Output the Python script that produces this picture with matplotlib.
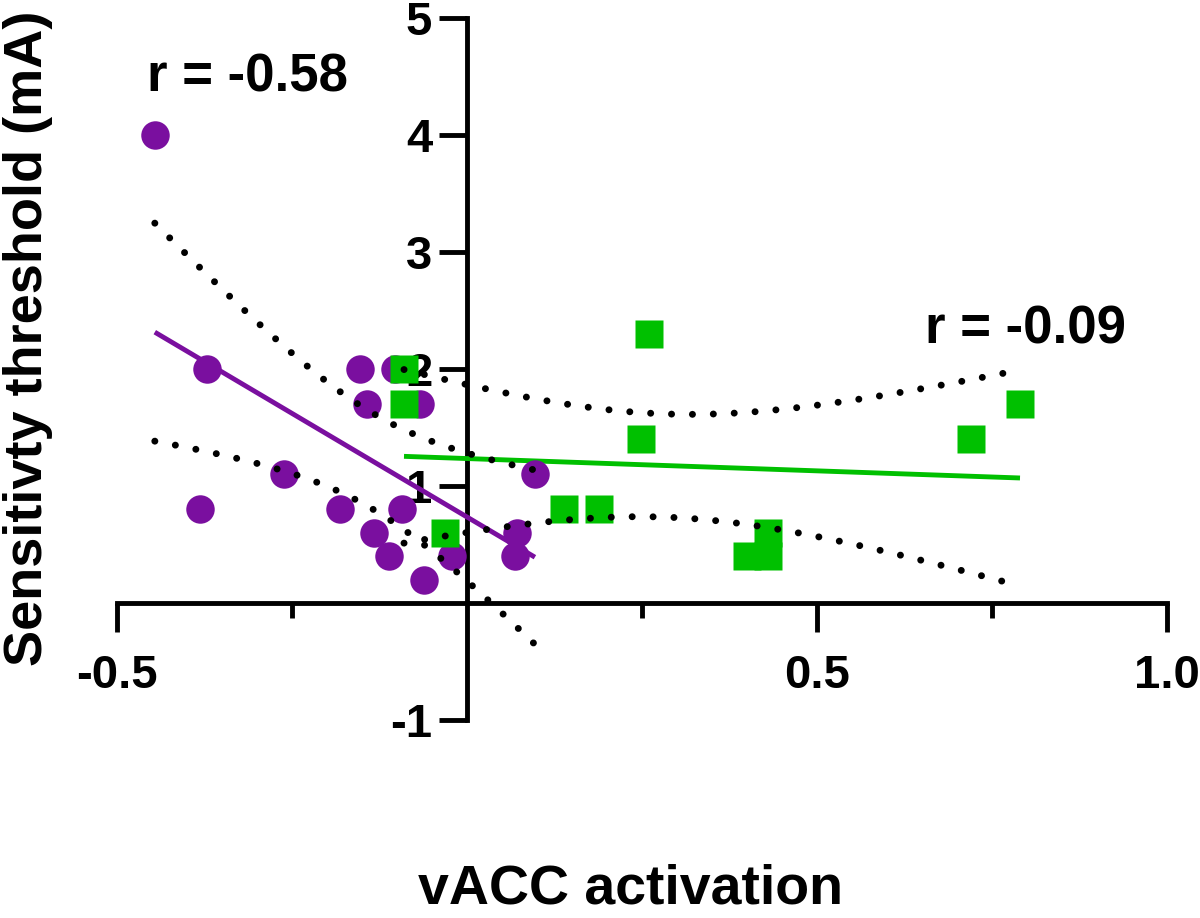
import matplotlib.pyplot as plt
import numpy as np

plt.rcParams["font.family"] = ["Liberation Sans", "DejaVu Sans"]
plt.rcParams["font.weight"] = "bold"

# purple group (circles)
purple_x = np.array([-0.446, -0.371, -0.381, -0.261, -0.181, -0.153, -0.143,
                     -0.133, -0.111, -0.093, -0.103, -0.067, -0.061, -0.021,
                     0.097, 0.071, 0.069])
purple_y = np.array([4.0, 2.0, 0.8, 1.1, 0.8, 2.0, 1.7, 0.6, 0.4, 0.8, 2.0,
                     1.7, 0.2, 0.4, 1.1, 0.6, 0.4])

# green group (squares)
green_x = np.array([-0.09, -0.09, -0.031, 0.26, 0.249, 0.139, 0.189, 0.79,
                    0.72, 0.43, 0.40, 0.43])
green_y = np.array([2.0, 1.7, 0.6, 2.3, 1.4, 0.8, 0.8, 1.7, 1.4, 0.6, 0.4, 0.4])

purple_r = "r = -0.58"
green_r = "r = -0.09"

# two-sided 95% t critical values by degrees of freedom
t_crit = {10: 2.228, 15: 2.131}

PURPLE = "#7a0f9f"
GREEN = "#00c000"


def fit_with_band(x, y):
    """linear fit and 95% confidence band of the mean over the data range"""
    slope, icpt = np.polyfit(x, y, 1)
    n = len(x)
    xs = np.linspace(x.min(), x.max(), 200)
    fit = slope * xs + icpt
    resid = y - (slope * x + icpt)
    s = np.sqrt(np.sum(resid ** 2) / (n - 2))
    sxx = np.sum((x - x.mean()) ** 2)
    half = t_crit[n - 2] * s * np.sqrt(1.0 / n + (xs - x.mean()) ** 2 / sxx)
    return xs, fit, fit - half, fit + half


def main() -> None:
    fig = plt.figure(figsize=(12, 9.18), dpi=100)
    ax = fig.add_axes([0.0975, 0.2157, 0.875, 0.7647])

    dots = dict(color="black", lw=5, linestyle=(0, (0.01, 3)),
                dash_capstyle="round", zorder=4)

    for x, y, col in [(purple_x, purple_y, PURPLE), (green_x, green_y, GREEN)]:
        xs, fit, lo, hi = fit_with_band(x, y)
        ax.plot(xs, fit, color=col, lw=3.5, zorder=3, solid_capstyle="butt")
        ax.plot(xs, lo, **dots)
        ax.plot(xs, hi, **dots)

    ax.plot(purple_x, purple_y, "o", color=PURPLE, ms=20.5, mec="none",
            zorder=3.5, clip_on=False)
    ax.plot(green_x, green_y, "s", color=GREEN, ms=20, mec="none",
            zorder=3.5, clip_on=False)

    ax.set_xlim(-0.5, 1.0)
    ax.set_ylim(-1, 5)

    for side in ["top", "right"]:
        ax.spines[side].set_visible(False)
    ax.spines["left"].set_position(("data", 0))
    ax.spines["bottom"].set_position(("data", 0))
    for side in ["left", "bottom"]:
        ax.spines[side].set_linewidth(3.5)

    ax.set_xticks([-0.5, 0.5, 1.0])
    ax.set_xticklabels(["-0.5", "0.5", "1.0"])
    ax.set_xticks([-0.25, 0.25, 0.75], minor=True)
    ax.set_yticks([-1, 1, 2, 3, 4, 5])
    ax.set_yticklabels(["-1", "1", "2", "3", "4", "5"])

    ax.tick_params(axis="x", which="major", direction="out", length=21,
                   width=3.5, labelsize=34, pad=16)
    ax.tick_params(axis="x", which="minor", direction="out", length=11,
                   width=3.5)
    ax.tick_params(axis="y", direction="out", length=20, width=3.5,
                   labelsize=34, pad=5)
    for lab in ax.get_xticklabels() + ax.get_yticklabels():
        lab.set_fontweight("bold")

    ax.text(-0.457, 4.37, purple_r, fontsize=38, fontweight="bold",
            ha="left", va="baseline")
    ax.text(0.654, 2.22, green_r, fontsize=38, fontweight="bold",
            ha="left", va="baseline")

    fig.text(28 / 1200, 1 - 338 / 918, "Sensitivty threshold (mA)",
             rotation=90, ha="center", va="center", fontsize=39,
             fontweight="bold")
    fig.text(631 / 1200, 14 / 918, "vACC activation", ha="center",
             va="baseline", fontsize=40, fontweight="bold")

    fig.savefig("out.png", dpi=100)


if __name__ == "__main__":
    main()
